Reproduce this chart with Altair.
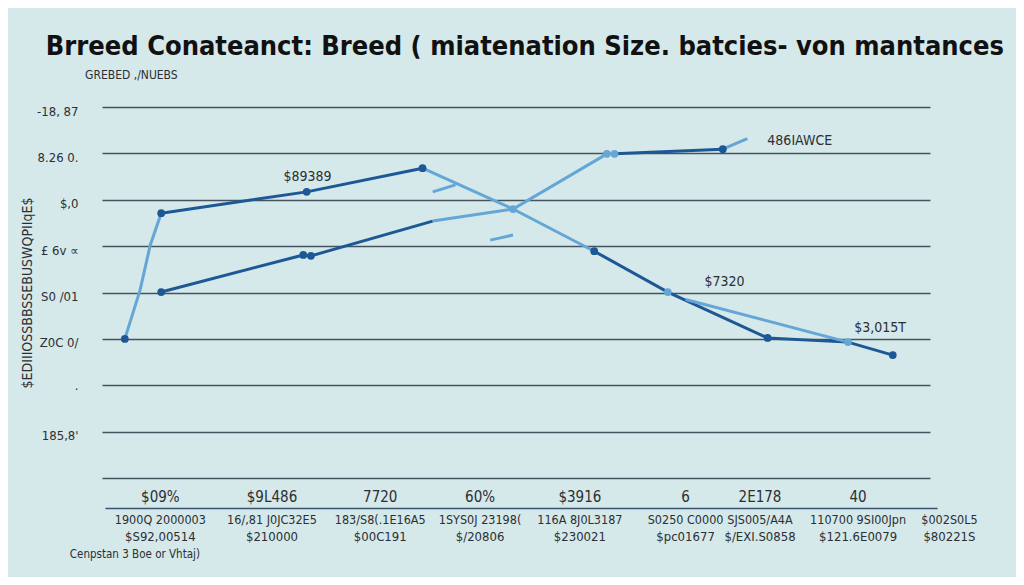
import json
import altair as alt
import pandas as pd

# ---------------- text ----------------
title_text = "Brreed Conateanct: Breed (  miatenation Size. batcies- von mantances"
subtitle_text = "GREBED ,/NUEBS"
note_text = "Cenpstan 3 Boe or Vhtaj)"
y_title = "$EDIIIOSSBBSSEBUSWQPIIqE$"

y_tick_values = [0, 1, 2, 3, 4, 5, 6, 7, 8]
y_tick_labels = ["", "185,8'", "·", "Z0C 0/", "S0 /01", "£ 6v ∝", "$,0", "8.26 0.", "-18, 87"]

# ---------------- x category labels (three rows) ----------------
x_label_pos = [6.9, 20.1, 32.9, 44.7, 56.5, 69.0, 77.8, 89.4, 100.2]
x_row0 = ["$09%", "$9L486", "7720", "60%", "$3916", "6", "2E178", "40", ""]
x_row1 = ["1900Q 2000003", "16/,81 J0JC32E5", "183/S8(.1E16A5", "1SYS0J 23198(", "116A 8J0L3187",
          "S0250 C0000", "SJS005/A4A", "110700 9SI00Jpn", "$002S0L5"]
x_row2 = ["$S92,00514", "$210000", "$00C191", "$/20806", "$230021", "$pc01677",
          "$/EXI.S0858", "$121.6E0079", "$80221S"]

# ---------------- line segments ----------------
seg_id = ["a", "a", "a", "a",
          "b", "b", "b",
          "c", "c", "c",
          "d", "d", "d", "d", "d",
          "e", "e",
          "f", "f", "f", "f",
          "g", "g", "g",
          "h", "h",
          "i", "i",
          "j", "j",
          "k", "k"]
seg_tone = ["light", "light", "light", "light",
            "dark", "dark", "dark",
            "light", "light", "light",
            "dark", "dark", "dark", "dark", "dark",
            "light", "light",
            "dark", "dark", "dark", "dark",
            "light", "light", "light",
            "dark", "dark",
            "light", "light",
            "light", "light",
            "light", "light"]
seg_x = [2.7, 4.5, 5.7, 7.0,
         7.0, 24.2, 37.9,
         37.9, 48.6, 58.2,
         58.2, 66.9, 78.7, 88.2, 93.5,
         69.0, 88.2,
         7.0, 23.8, 24.7, 39.1,
         39.1, 48.6, 59.7,
         60.6, 73.4,
         73.4, 76.3,
         39.1, 41.8,
         45.9, 48.6]
seg_y = [3.0, 4.05, 5.02, 5.71,
         5.71, 6.17, 6.68,
         6.68, 5.80, 4.89,
         4.89, 4.01, 3.02, 2.93, 2.65,
         3.85, 2.93,
         4.01, 4.81, 4.79, 5.54,
         5.54, 5.80, 6.99,
         6.99, 7.09,
         7.09, 7.32,
         6.17, 6.32,
         5.13, 5.24]

# ---------------- markers ----------------
pt_x = [2.7, 7.0, 24.2, 37.9, 7.0, 23.8, 24.7, 58.2, 78.7, 93.5, 73.4,
        48.6, 66.9, 88.2, 59.7, 60.6]
pt_y = [3.0, 5.71, 6.17, 6.68, 4.01, 4.81, 4.79, 4.89, 3.02, 2.65, 7.09,
        5.80, 4.01, 2.93, 6.99, 6.99]
pt_tone = ["dark"] * 11 + ["light"] * 5

# ---------------- annotations ----------------
ann_text = ["$89389", "486IAWCE", "$7320", "$3,015T"]
ann_x = [24.3, 82.5, 73.6, 92.0]
ann_y = [6.49, 7.27, 4.23, 3.23]

# ---------------- styling ----------------
BG = "#d5e8ea"
DARK = "#1d5896"
LIGHT = "#64a6d6"
FONT = "Liberation Sans Narrow, DejaVu Sans Condensed, Liberation Sans, sans-serif"
TXT = "#2b2f33"

X_DOMAIN = [0, 97.9]
Y_DOMAIN = [0, 8]

xs = alt.Scale(domain=X_DOMAIN, nice=False, zero=False)
ys = alt.Scale(domain=Y_DOMAIN, nice=False, zero=False)
color_scale = alt.Scale(domain=["dark", "light"], range=[DARK, LIGHT])

label_expr = "[" + ",".join(json.dumps(l) for l in y_tick_labels) + "][datum.value]"

seg_df = pd.DataFrame({"seg": seg_id, "tone": seg_tone, "x": seg_x, "y": seg_y,
                       "order": list(range(len(seg_x)))})
pt_df = pd.DataFrame({"x": pt_x, "y": pt_y, "tone": pt_tone})
ann_df = pd.DataFrame({"t": ann_text, "x": ann_x, "y": ann_y})

y_axis = alt.Axis(values=y_tick_values, labelExpr=label_expr, grid=True, gridColor="#46535e",
                  gridWidth=1.5, domain=False, ticks=False, labelPadding=24, labelFontSize=13,
                  labelColor=TXT, labelFont=FONT, labelOffset=4, title=y_title,
                  titleFontSize=14, titleFontWeight="normal", titleFont=FONT, titleColor=TXT,
                  titleX=-68)

base = alt.Chart(seg_df).mark_line(opacity=0).encode(
    x=alt.X("x:Q", scale=xs, axis=None),
    y=alt.Y("y:Q", scale=ys, axis=y_axis),
)

lines = alt.Chart(seg_df).mark_line(strokeWidth=3, clip=False).encode(
    x=alt.X("x:Q", scale=xs),
    y=alt.Y("y:Q", scale=ys),
    detail="seg:N",
    order="order:Q",
    color=alt.Color("tone:N", scale=color_scale, legend=None),
)

points = alt.Chart(pt_df).mark_circle(size=60, opacity=1).encode(
    x=alt.X("x:Q", scale=xs),
    y=alt.Y("y:Q", scale=ys),
    color=alt.Color("tone:N", scale=color_scale, legend=None),
)

ann = alt.Chart(ann_df).mark_text(font=FONT, fontSize=14, color=TXT, baseline="middle").encode(
    x=alt.X("x:Q", scale=xs), y=alt.Y("y:Q", scale=ys), text="t:N"
)

xl_df = pd.DataFrame({"x": x_label_pos * 3,
                      "y": [-0.41] * 9 + [-0.90] * 9 + [-1.27] * 9,
                      "t": x_row0 + x_row1 + x_row2,
                      "size": [15] * 9 + [12.5] * 9 + [13] * 9})
xlabels = alt.Chart(xl_df).mark_text(font=FONT, color=TXT, baseline="middle").encode(
    x=alt.X("x:Q", scale=xs), y=alt.Y("y:Q", scale=ys), text="t:N",
    size=alt.Size("size:Q", scale=None, legend=None),
)

rule_df = pd.DataFrame({"x": [0.4], "x2": [98.8], "y": [-0.66]})
underline = alt.Chart(rule_df).mark_rule(color="#3a5570", strokeWidth=1.5, clip=False).encode(
    x=alt.X("x:Q", scale=xs), x2="x2:Q", y=alt.Y("y:Q", scale=ys)
)

extra_df = pd.DataFrame({"t": [subtitle_text, note_text], "x": [-2.0, -3.8], "y": [8.69, -1.66],
                         "size": [12, 11.5]})
extras = alt.Chart(extra_df).mark_text(font=FONT, color=TXT, align="left", baseline="middle").encode(
    x=alt.X("x:Q", scale=xs), y=alt.Y("y:Q", scale=ys), text="t:N",
    size=alt.Size("size:Q", scale=None, legend=None),
)

title_df = pd.DataFrame({"t": [title_text], "x": [50.0], "y": [9.29]})
title = alt.Chart(title_df).mark_text(font=FONT, fontSize=27, fontWeight="bold", color="#111111",
                                      baseline="middle", align="center").encode(
    x=alt.X("x:Q", scale=xs), y=alt.Y("y:Q", scale=ys), text="t:N"
)

chart = alt.layer(base, underline, lines, points, ann, xlabels, extras, title).properties(
    width=828,
    height=371,
    autosize=alt.AutoSizeParams(type="none"),
    padding={"left": 94, "top": 99, "right": 86, "bottom": 99},
    background=BG,
).configure_view(stroke=None)

chart.save("out.html", embed_options={"renderer": "svg", "actions": False})
